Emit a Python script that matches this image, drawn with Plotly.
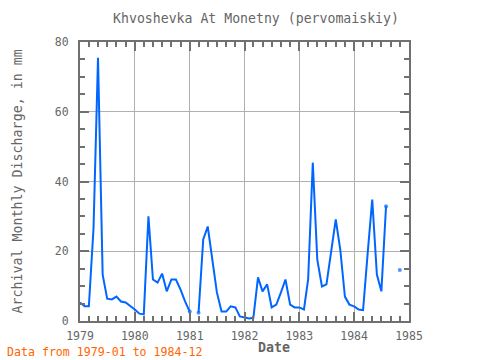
import pandas as pd
import plotly.graph_objects as go

# Monthly discharge, 1979-01 .. 1984-12 (None = missing)
v1979 = [5.3, 4.2, 4.2, 26.5, 75.5, 13.3, 6.4, 6.2, 7.0, 5.6, 5.3, 4.4]
v1980 = [3.3, 2.1, 1.9, 30.0, 11.9, 11.0, 13.6, 8.5, 11.9, 11.9, 9.0, 5.6]
v1981 = [2.7, None, 2.4, 23.4, 27.1, 16.8, 8.2, 2.7, 2.7, 4.2, 3.9, 1.3]
v1982 = [1.0, 0.7, 0.9, 12.5, 8.5, 10.5, 3.9, 4.7, 8.2, 11.9, 4.7, 3.9]
v1983 = [3.9, 3.3, 11.9, 45.4, 17.6, 9.9, 10.5, 20.5, 29.1, 20.5, 7.0, 4.7]
v1984 = [4.2, 3.3, 3.1, 19.6, 34.8, 13.3, 8.5, 32.9, None, None, 14.6, None]

values = v1979 + v1980 + v1981 + v1982 + v1983 + v1984
dates = pd.date_range("1979-01-01", periods=len(values), freq="MS")

title_text = "Khvoshevka At Monetny (pervomaiskiy)"
y_title = "Archival Monthly Discharge, in mm"
x_title = "Date"
note_text = "Data from 1979-01 to 1984-12"

# markers only where a point touches a gap
sizes = []
for i, v in enumerate(values):
    prev_missing = i > 0 and values[i - 1] is None
    next_missing = i < len(values) - 1 and values[i + 1] is None
    sizes.append(4 if (v is not None and (prev_missing or next_missing)) else 0)

FONT = "DejaVu Sans Mono"
GRAY = "#666666"
BLUE = "#0066ff"

fig = go.Figure()
fig.add_trace(go.Scatter(
    x=dates, y=values, mode="lines+markers",
    line=dict(color=BLUE, width=2),
    marker=dict(color=BLUE, size=sizes, line=dict(width=0)),
    connectgaps=False, hoverinfo="skip", showlegend=False,
))

axis_common = dict(
    showline=True, linecolor="#707070", linewidth=2, mirror="allticks",
    ticks="inside", tickcolor="#707070",
    showgrid=True, gridcolor="#b0b0b0", gridwidth=1, zeroline=False,
    tickfont=dict(family=FONT, size=11.5, color=GRAY),
)

fig.update_xaxes(
    type="date", range=["1979-01-01", "1985-01-01"],
    dtick="M12", tick0="1979-01-01", tickformat="%Y", ticklen=9, tickwidth=2,
    ticklabelstandoff=3,
    minor=dict(dtick="M2", ticklen=5, tickwidth=2, tickcolor="#707070", showgrid=False, ticks="inside"),
    **axis_common,
)
fig.update_yaxes(
    range=[0, 80], dtick=20, ticklen=9, tickwidth=2,
    ticklabelstandoff=7,
    minor=dict(dtick=5, ticklen=5, tickwidth=2, tickcolor="#707070", showgrid=False, ticks="inside"),
    **axis_common,
)

fig.update_layout(
    width=480, height=360,
    margin=dict(l=80, r=71, t=42, b=39),
    paper_bgcolor="white", plot_bgcolor="white",
    font=dict(family=FONT, color=GRAY),
    title=dict(text=title_text, x=256 / 480, xanchor="center", y=1 - 18 / 360, yanchor="middle",
               font=dict(family=FONT, size=13.2, color=GRAY)),
    annotations=[
        dict(text=note_text, xref="paper", yref="paper", x=(5 - 80) / 329, y=(321 - 352) / 279,
             xanchor="left", yanchor="middle", showarrow=False,
             font=dict(family=FONT, size=11.6, color="#ff6600")),
        dict(text="<b>" + x_title + "</b>", xref="paper", yref="paper", x=(274 - 80) / 329, y=(321 - 347) / 279,
             xanchor="center", yanchor="middle", showarrow=False,
             font=dict(family=FONT, size=13.3, color=GRAY)),
        dict(text=y_title, xref="paper", yref="paper", x=(17 - 80) / 329, y=0.5,
             xanchor="center", yanchor="middle", textangle=-90, showarrow=False,
             font=dict(family=FONT, size=13.3, color=GRAY)),
    ],
)

fig.write_html("out.html", config={"displayModeBar": False},
               post_script="document.body.style.margin='0';document.body.style.overflow='hidden';")
